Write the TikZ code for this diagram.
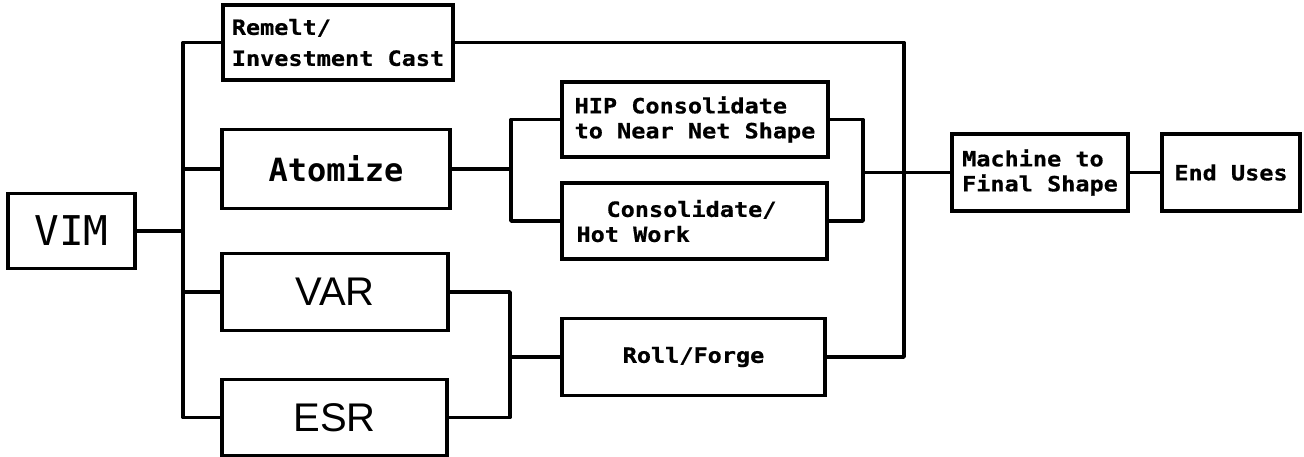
\documentclass[tikz,border=0pt]{standalone}
\usepackage{fontspec}
\newfontfamily\dotfont[FakeStretch=1.12,FakeBold=0.6]{DejaVu Sans Mono}
\newfontfamily\bigmono{DejaVu Sans Mono}
\newfontfamily\bigsans{Liberation Sans}
\begin{document}
\begin{tikzpicture}[x=1pt,y=-1pt,
  line width=3.8pt, line join=round, line cap=round,
  box/.style={draw, rectangle, inner sep=0pt, line width=3.8pt, line join=miter},
  small/.style={font=\dotfont\bfseries\fontsize{21}{25}\selectfont, align=left},
  smallc/.style={font=\dotfont\bfseries\fontsize{21}{25}\selectfont, align=center},
  vimfont/.style={font=\bigmono\fontsize{41}{45}\selectfont},
  atofont/.style={font=\bigmono\bfseries\fontsize{32}{36}\selectfont},
  sansfont/.style={font=\bigsans\fontsize{40}{44}\selectfont}]
\useasboundingbox (0,0) rectangle (1304,456);
% boxes
\node[box, vimfont, minimum width=127pt, minimum height=75pt] (vim) at (71.5,231) {VIM};
\node[box, small, minimum width=230pt, minimum height=75pt] (rem) at (338,42.5) {Remelt/\\[6pt]Investment~Cast};
\node[box, atofont, minimum width=228pt, minimum height=79pt] (ato) at (336,169) {Atomize};
\node[box, sansfont, minimum width=226pt, minimum height=77pt] (var) at (335,292) {VAR};
\node[box, sansfont, minimum width=225pt, minimum height=76pt] (esr) at (334.5,417.5) {ESR};
\node[box, small, minimum width=266pt, minimum height=75pt] (hip) at (695,119.5) {HIP~Consolidate\\to~Near~Net~Shape};
\node[box, small, minimum width=265pt, minimum height=76pt] (con) at (694.5,221) {\hspace*{30pt}Consolidate/\hspace*{36pt}\\Hot~Work};
\node[box, smallc, minimum width=263pt, minimum height=77pt] (roll) at (693.5,357) {Roll/Forge};
\node[box, small, minimum width=176pt, minimum height=77pt] (mach) at (1040,172.5) {Machine~to\\Final~Shape};
\node[box, smallc, minimum width=138pt, minimum height=77pt] (end) at (1231,172.5) {End~Uses};
% bus coordinates
\coordinate (b1) at (183,0);
\coordinate (b2) at (511,0);
\coordinate (b3) at (510,0);
\coordinate (b4) at (904,0);
\coordinate (b5) at (863,0);
% VIM bus
\draw (rem.west) -- (rem.west -| b1) -- (esr.west -| b1) -- (esr.west);
\draw (vim.east) -- (vim.east -| b1);
\draw (ato.west) -- (ato.west -| b1);
\draw (var.west) -- (var.west -| b1);
% Atomize to HIP / Consolidate
\draw (hip.west) -- (hip.west -| b2) -- (con.west -| b2) -- (con.west);
\draw (ato.east) -- (ato.east -| b2);
% VAR / ESR to Roll/Forge
\draw (var.east) -- (var.east -| b3) -- (esr.east -| b3) -- (esr.east);
\draw (roll.west) -- (roll.west -| b3);
% Remelt to Roll/Forge bus
\draw (rem.east) -- (rem.east -| b4) -- (roll.east -| b4) -- (roll.east);
% HIP / Consolidate to Machine
\draw (hip.east) -- (hip.east -| b5) -- (con.east -| b5) -- (con.east);
\draw (mach.west) -- (mach.west -| b5);
% Machine to End Uses
\draw (mach.east) -- (end.west);
\end{tikzpicture}
\end{document}
